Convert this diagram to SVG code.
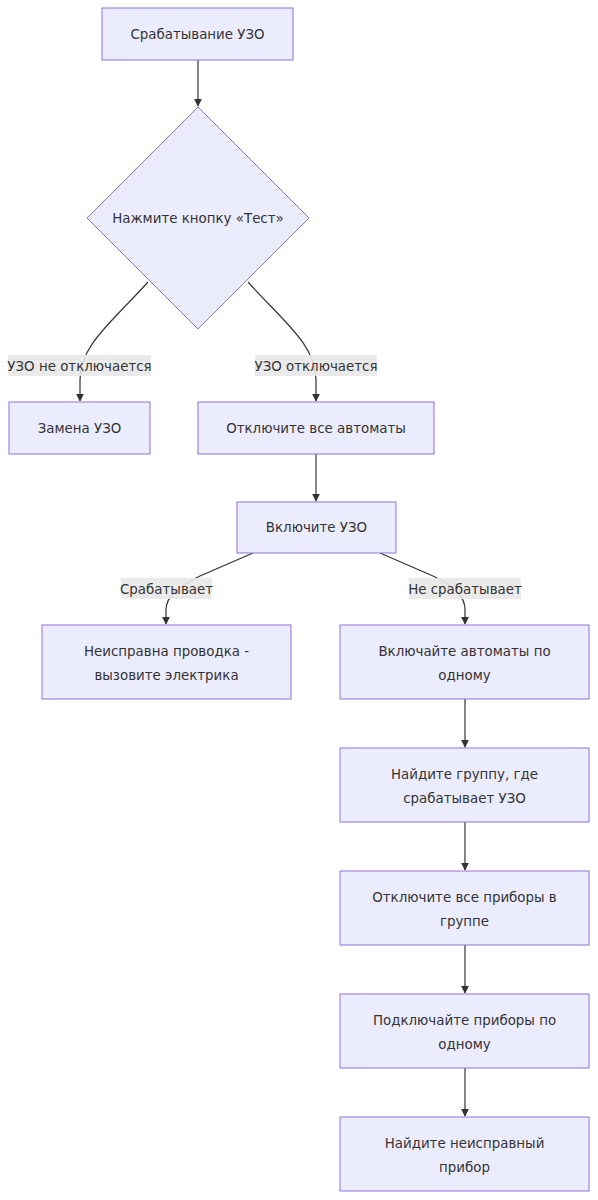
<svg xmlns="http://www.w3.org/2000/svg" width="598" height="1200" viewBox="0 0 598 1200">
<style>
.node rect,.node polygon{fill:#ECECFF;stroke:#9370DB;stroke-width:1}
text{font-family:"DejaVu Sans","Liberation Sans",sans-serif;font-size:13.4px;fill:#333;text-anchor:middle}
.edge{fill:none;stroke:#333;stroke-width:1.2}
.lbl{fill:#e8e8e8;opacity:0.9}
</style>
<defs>
<marker id="arr" viewBox="0 0 10 10" refX="9" refY="5" markerWidth="8" markerHeight="8" orient="auto" markerUnits="userSpaceOnUse">
<path d="M0,0 L10,5 L0,10 z" fill="#333"/>
</marker>
</defs>
<rect width="598" height="1200" fill="#fff"/>
<g id="connectors">
<path class="edge" d="M198,60 L198,106" marker-end="url(#arr)"/>
<path class="edge" d="M148,282 C112,322 80,345 80,380 L80,401" marker-end="url(#arr)"/>
<path class="edge" d="M248,282 C284,322 316,345 316,380 L316,401" marker-end="url(#arr)"/>
<path class="edge" d="M316,454 L316,501" marker-end="url(#arr)"/>
<path class="edge" d="M253,553 L200,576 C175,588 166,598 166,610 L166,624" marker-end="url(#arr)"/>
<path class="edge" d="M380,553 L433,576 C458,588 465,598 465,610 L465,624" marker-end="url(#arr)"/>
<path class="edge" d="M465,699 L465,747" marker-end="url(#arr)"/>
<path class="edge" d="M465,822 L465,870" marker-end="url(#arr)"/>
<path class="edge" d="M465,945 L465,993" marker-end="url(#arr)"/>
<path class="edge" d="M465,1068 L465,1116" marker-end="url(#arr)"/>
<g id="edge-labels">
<rect class="lbl" x="8" y="355" width="143" height="21"/>
<text x="79.5" y="370.5">УЗО не отключается</text>
<rect class="lbl" x="255" y="355" width="122" height="21"/>
<text x="316" y="370.5">УЗО отключается</text>
<rect class="lbl" x="121" y="578" width="91" height="21"/>
<text x="166.5" y="593.5">Срабатывает</text>
<rect class="lbl" x="409" y="578" width="112" height="21"/>
<text x="465" y="593.5">Не срабатывает</text>
</g>
</g>
<g id="n1" class="node"><rect x="102" y="8" width="191" height="52"/><text x="197.5" y="39">Срабатывание УЗО</text></g>
<g id="n2" class="node"><polygon points="198,107 309,218 198,329 87,218"/><text x="198" y="223">Нажмите кнопку «Тест»</text></g>
<g id="n3" class="node"><rect x="9" y="402" width="141" height="52"/><text x="79.5" y="433">Замена УЗО</text></g>
<g id="n4" class="node"><rect x="198" y="402" width="236" height="52"/><text x="316" y="433">Отключите все автоматы</text></g>
<g id="n5" class="node"><rect x="237" y="502" width="159" height="51"/><text x="316.5" y="532">Включите УЗО</text></g>
<g id="n6" class="node"><rect x="42" y="625" width="249" height="74"/><text x="166.5" y="656">Неисправна проводка -</text><text x="166.5" y="680">вызовите электрика</text></g>
<g id="n7" class="node"><rect x="340" y="625" width="249" height="74"/><text x="464.5" y="656">Включайте автоматы по</text><text x="464.5" y="680">одному</text></g>
<g id="n8" class="node"><rect x="340" y="748" width="249" height="74"/><text x="464.5" y="779">Найдите группу, где</text><text x="464.5" y="803">срабатывает УЗО</text></g>
<g id="n9" class="node"><rect x="340" y="871" width="249" height="74"/><text x="464.5" y="902">Отключите все приборы в</text><text x="464.5" y="926">группе</text></g>
<g id="n10" class="node"><rect x="340" y="994" width="249" height="74"/><text x="464.5" y="1025">Подключайте приборы по</text><text x="464.5" y="1049">одному</text></g>
<g id="n11" class="node"><rect x="340" y="1117" width="249" height="74"/><text x="464.5" y="1148">Найдите неисправный</text><text x="464.5" y="1172">прибор</text></g>
</svg>
